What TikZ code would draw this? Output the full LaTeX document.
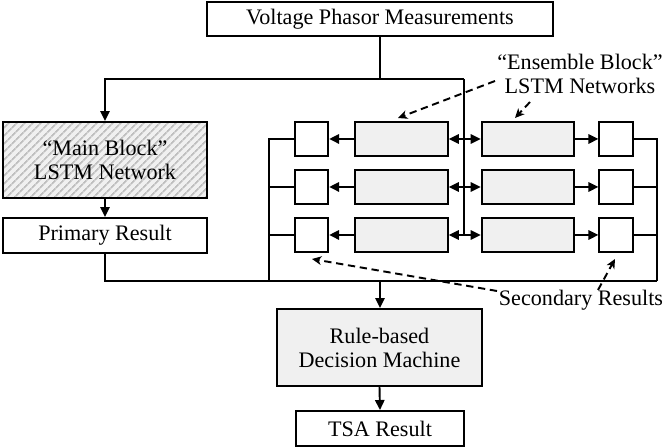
\documentclass[tikz,border=0pt]{standalone}
\usepackage{fontspec}
\setmainfont{Liberation Serif}
\usetikzlibrary{arrows.meta,patterns.meta}
\begin{document}
\begin{tikzpicture}[x=0.75pt,y=-0.75pt,
  line width=1.45pt,
  box/.style={draw,line width=1.45pt,inner sep=0pt,align=center,
    font=\fontsize{16.6}{18}\selectfont},
  lstm/.style={box,fill=gray!12,minimum width=69.5pt,minimum height=25.5pt},
  small/.style={box,minimum width=25pt,minimum height=25.5pt},
  arr/.style={-{Triangle[length=7.5pt,width=7pt]}},
  dasharr/.style={-{Stealth[length=7pt,width=6.5pt,inset=2pt]},dash pattern=on 5.5pt off 3.5pt},
  lbl/.style={align=center,inner sep=0pt,font=\fontsize{16.6}{18}\selectfont}]
\useasboundingbox (0,0) rectangle (664,448);

\node[box,minimum width=259.5pt,minimum height=25.5pt] (V) at (380,19) {Voltage Phasor Measurements};
\node[box,minimum width=153pt,minimum height=57pt,
  preaction={fill=gray!12},
  pattern={Lines[angle=45,distance=4pt,line width=1.4pt]},pattern color=gray!50] (M) at (105,160) {“Main Block”\\LSTM Network};
\node[box,minimum width=153pt,minimum height=26.25pt] (P) at (105,235.5) {Primary Result};

\foreach \i/\yy in {1/139,2/187,3/235}{
  \node[small] (SL\i) at (311.5,\yy) {};
  \node[lstm] (GL\i) at (401.5,\yy) {};
  \node[lstm] (GR\i) at (528,\yy) {};
  \node[small] (SR\i) at (616,\yy) {};
  \coordinate (C\i) at (464,\yy);
}

\node[box,fill=gray!12,minimum width=153.75pt,minimum height=57.75pt] (R) at (379.5,347.5) {Rule-based\\Decision Machine};
\node[box,minimum width=126pt,minimum height=26.25pt] (T) at (380,428.5) {TSA Result};

\node[lbl] (E) at (580,74) {“Ensemble Block”\\LSTM Networks};
\node[lbl] (S) at (581,300) {Secondary Results};

\coordinate (topL) at (105,79);
\coordinate (topR) at (464,79);
\coordinate (botL) at (269,281);
\coordinate (botR) at (657,281);
\coordinate (mid) at (380,281);

% input distribution
\draw (V.south) -- (V.south |- topL);
\draw[arr] (topR) -- (topL) -- (M.north);
\draw (topR) -- (C3);
\draw[arr] (M.south) -- (P.north);

\foreach \i in {1,2,3}{
  \draw[arr] (C\i) -- (GL\i.east);
  \draw[arr] (C\i) -- (GR\i.west);
  \draw[arr] (GL\i.west) -- (SL\i.east);
  \draw[arr] (GR\i.east) -- (SR\i.west);
}
\draw (SL1.west) -| (botL);
\draw (SL2.west) -- (SL2.west -| botL);
\draw (SL3.west) -- (SL3.west -| botL);
\draw (SR1.east) -| (botR);
\draw (SR2.east) -- (SR2.east -| botR);
\draw (SR3.east) -- (SR3.east -| botR);
\draw (P.south) |- (botR);
\draw[arr] (mid) -- (mid |- R.north);
\draw[arr] (R.south) -- (T.north);

% annotations
\coordinate (e1) at (495,81);
\coordinate (e2) at (530,102);
\coordinate (t1) at (398,118);
\coordinate (t2) at (515,118);
\coordinate (s1) at (497,291);
\coordinate (s2) at (598,290);
\coordinate (u1) at (312,259);
\coordinate (u2) at (615,259);
\draw[dasharr] (e1) -- (t1);
\draw[dasharr] (e2) -- (t2);
\draw[dasharr] (s1) -- (u1);
\draw[dasharr] (s2) -- (u2);
\end{tikzpicture}
\end{document}
